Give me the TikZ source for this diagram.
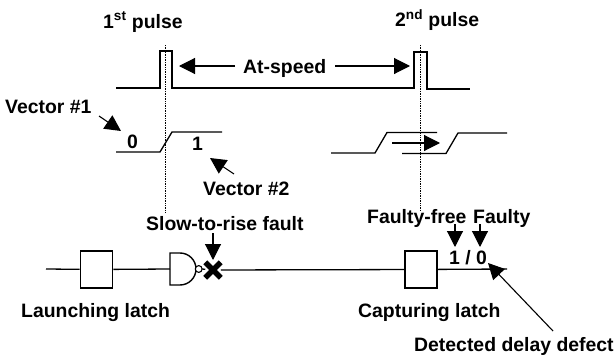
\documentclass[tikz,border=0pt]{standalone}
\usepackage{fontspec}
\setmainfont{Liberation Sans}
\usetikzlibrary{arrows.meta,shapes.misc}
\tikzset{
    lbl/.style={anchor=base west,inner sep=0pt,font=\fontsize{19.4}{22}\selectfont\bfseries},
    wire/.style={line width=1.3pt},
    bigarrow/.style={line width=1.1pt,-{Triangle[length=16pt,width=16pt]}},
    latch/.style={draw,line width=1.6pt,minimum width=32pt,minimum height=37pt,inner sep=0pt}
}
\begin{document}
\begin{tikzpicture}[x=1pt,y=-1pt]
    \useasboundingbox (0,0) rectangle (614,356);
    % dotted guides
    \foreach \x/\y in {165/213,420/210}
    \draw[densely dotted,line width=0.7pt] (\x,45) -- (\x,\y);
    % pulses
    \draw[wire] (116,88) -- (160,88) -- (160,51) -- (172,51) -- (172,88) -- (414,88) -- (414,52) -- (427,52) -- (427,89) -- (470,89);
    % transitions
    \draw[wire] (116,152) -- (160,152) -- (172,132) -- (222,132);
    \draw[wire] (331,153) -- (375,153) -- (387,132.5) -- (437,132.5);
    \draw[wire] (402,153.5) -- (446,153.5) -- (458,133) -- (507,133);
    % circuit
    \node[latch] (launch) at (96.5,269.5) {};
    \node[latch] (capture) at (421,269.5) {};
    \coordinate (in) at (46,269);
    \coordinate (nandin) at (170,269);
    \coordinate (nandout) at (202,269);
    \coordinate (out) at (507,269);
    \node[cross out,draw,line width=5.5pt,minimum size=10pt,inner sep=0pt] (fault) at (213,270) {};
    \draw[wire] (in) -- (launch);
    \draw[wire] (launch) -- (nandin);
    \draw[wire] (nandout) -- (fault);
    \draw[wire] (fault) -- (capture);
    \draw[wire] (capture) -- (out);
    \draw[line width=1.4pt] (170,253) -- (180,253) arc[start angle=90,end angle=-90,radius=16pt] -- (170,285) -- cycle;
    \draw[line width=1.1pt,fill=white] (198.7,269) circle[radius=3.4pt];
    % labels
    \node[lbl] (first) at (103,28) {1\textsuperscript{st} pulse};
    \node[lbl] (second) at (395,27) {2\textsuperscript{nd} pulse};
    \node[lbl] (speed) at (243,73) {At-speed};
    \node[lbl] (vecone) at (5,113) {Vector \#1};
    \node[lbl] (vectwo) at (203,195) {Vector \#2};
    \node[lbl] (zero) at (127,148) {0};
    \node[lbl] (one) at (192,150) {1};
    \node[lbl] (slow) at (146,230) {Slow-to-rise fault};
    \node[lbl] (free) at (367,223) {Faulty-free};
    \node[lbl] (faulty) at (473,223) {Faulty};
    \node[lbl] (value) at (449,264) {1 / 0};
    \node[lbl] (launching) at (21,317) {Launching latch};
    \node[lbl] (capturing) at (358,317) {Capturing latch};
    \node[lbl] (detected) at (414,351) {Detected delay defect};
    % arrows
    \coordinate (speedl) at (235,66);
    \coordinate (speedr) at (335,66);
    \coordinate (speedlt) at (179,66);
    \coordinate (speedrt) at (410,66);
    \draw[bigarrow] (speedl) -- (speedlt);
    \draw[bigarrow] (speedr) -- (speedrt);
    \coordinate (vonea) at (99,116);
    \coordinate (voneb) at (121,131);
    \draw[bigarrow] (vonea) -- (voneb);
    \coordinate (vtwoa) at (234,174);
    \coordinate (vtwob) at (210,158);
    \draw[bigarrow] (vtwoa) -- (vtwob);
    \coordinate (slowa) at (213,233);
    \coordinate (slowb) at (213,260);
    \draw[bigarrow] (slowa) -- (slowb);
    \coordinate (freea) at (455,224);
    \coordinate (freeb) at (455,247);
    \draw[bigarrow] (freea) -- (freeb);
    \coordinate (faultya) at (480,224);
    \coordinate (faultyb) at (480,247);
    \draw[bigarrow] (faultya) -- (faultyb);
    \coordinate (sepa) at (392,143);
    \coordinate (sepb) at (440,143);
    \draw[bigarrow] (sepa) -- (sepb);
    \coordinate (defa) at (553,331);
    \coordinate (defb) at (488,263);
    \draw[bigarrow] (defa) -- (defb);
\end{tikzpicture}
\end{document}
